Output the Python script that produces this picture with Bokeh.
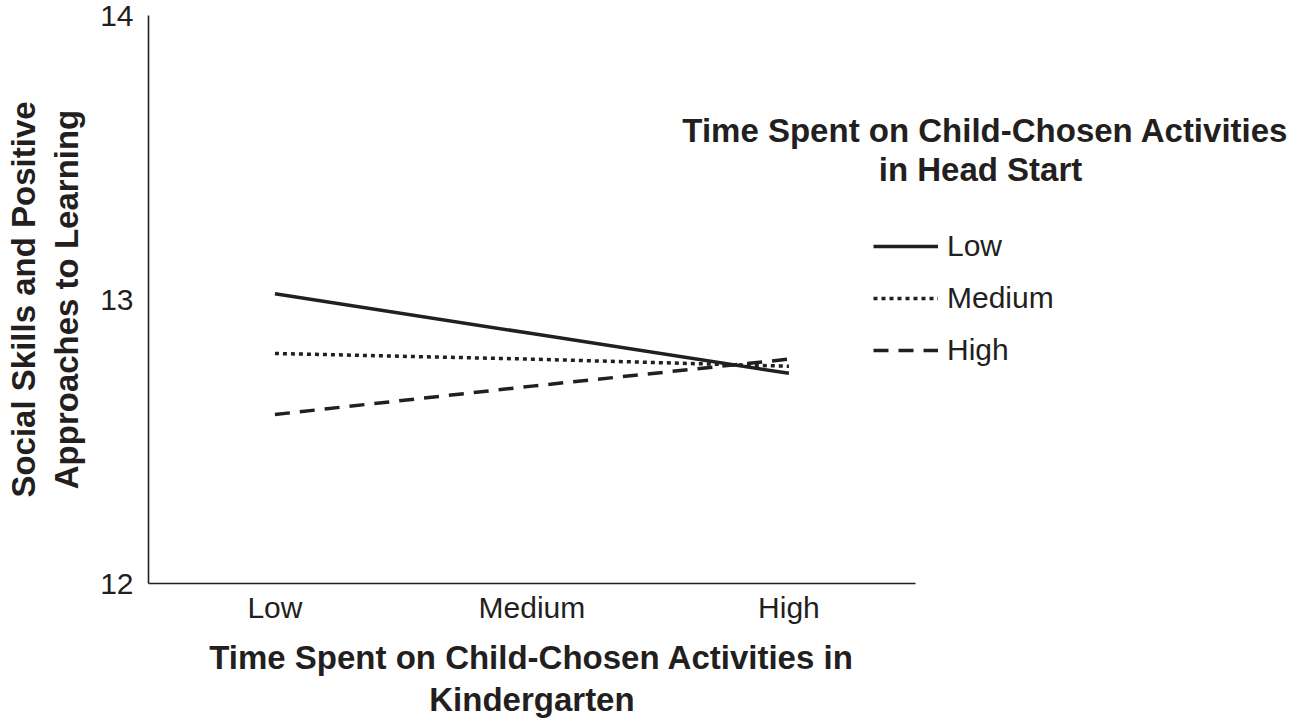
from bokeh.plotting import figure
from bokeh.models import (Range1d, FixedTicker, Label, Legend, LegendItem, Title)
from bokeh.embed import file_html
from bokeh.resources import INLINE

# ---- data ----
categories = ["Low", "Medium", "High"]
low_series = [13.02, 12.88, 12.74]
medium_series = [12.81, 12.79, 12.765]
high_series = [12.595, 12.695, 12.79]
y_ticks = [12, 13, 14]
series_names = ["Low", "Medium", "High"]
x_title = ["Time Spent on Child-Chosen Activities in", "Kindergarten"]
y_title = ["Social Skills and Positive", "Approaches to Learning"]
legend_title = ["Time Spent on Child-Chosen Activities", "in Head Start"]

INK = "#231f20"
FONT = "Liberation Sans"
TITLE_PX = 33

# category positions on the x scale (one unit per category)
x_pos = list(range(len(categories)))
PAD = 0.492
LEFT = 148
FRAME_W = 1288 - LEFT
UNIT_PX = 257.0

p = figure(width=1288, height=718,
           x_range=Range1d(-PAD, -PAD + FRAME_W / UNIT_PX),
           y_range=Range1d(12, 14), output_backend="svg", toolbar_location=None,
           min_border_left=LEFT, min_border_right=0, min_border_top=15,
           min_border_bottom=135)
p.outline_line_color = None
p.xgrid.grid_line_color = None
p.ygrid.grid_line_color = None
p.background_fill_color = None
p.border_fill_color = None

for ax in (p.xaxis[0], p.yaxis[0]):
    ax.axis_line_color = INK
    ax.axis_line_width = 1.6
    ax.major_tick_line_color = None
    ax.minor_tick_line_color = None
    ax.major_label_text_font = FONT
    ax.major_label_text_font_size = "30px"
    ax.major_label_text_color = INK
    ax.axis_label_text_font = FONT
    ax.axis_label_text_font_style = "bold"
    ax.axis_label_text_color = INK
p.yaxis[0].ticker = FixedTicker(ticks=y_ticks)
p.xaxis[0].ticker = FixedTicker(ticks=x_pos)
p.xaxis[0].major_label_overrides = {i: c for i, c in zip(x_pos, categories)}
p.xaxis[0].bounds = (-PAD, x_pos[-1] + PAD)
p.yaxis[0].major_label_standoff = 9
p.xaxis[0].major_label_standoff = 1

# y axis title (two centred lines)
p.yaxis[0].axis_label = "\n".join(y_title)
p.yaxis[0].axis_label_text_font_size = f"{TITLE_PX}px"
p.yaxis[0].axis_label_text_line_height = 1.17
p.yaxis[0].axis_label_standoff = 12

# x axis: blank label used only as a gap before the two title lines
p.xaxis[0].axis_label = " "
p.xaxis[0].axis_label_text_font_size = "1px"
p.xaxis[0].axis_label_standoff = 4

# x axis title lines, each centred under the axis line
def text_width(s, size):
    w = {"T": .611, "i": .278, "m": .889, "e": .556, " ": .278, "S": .667,
         "p": .611, "n": .611, "t": .333, "o": .611, "C": .722, "h": .611,
         "l": .278, "d": .611, "-": .333, "s": .556, "A": .722, "c": .556,
         "v": .556, "K": .722, "r": .389, "g": .611, "a": .556}
    return sum(w.get(ch, .6) for ch in s) * size

axis_center = PAD * UNIT_PX + UNIT_PX * x_pos[-1] / 2  # px from frame left
for line, so in zip(x_title, (4, 2)):
    off = axis_center - text_width(line, TITLE_PX) / 2
    p.add_layout(Title(text=line, align="left", offset=off, standoff=so,
                       text_font=FONT, text_font_size=f"{TITLE_PX}px",
                       text_font_style="bold", text_color=INK), "below")

r_low = p.line(x_pos, low_series, line_color=INK, line_width=3.5)
r_med = p.line(x_pos, medium_series, line_color=INK, line_width=3.5,
               line_dash="4 4")
r_high = p.line(x_pos, high_series, line_color=INK, line_width=3.5,
                line_dash="15 10")

legend = Legend(items=[LegendItem(label=series_names[0], renderers=[r_low]),
                       LegendItem(label=series_names[1], renderers=[r_med]),
                       LegendItem(label=series_names[2], renderers=[r_high])],
                location=(725, 215), glyph_width=65, glyph_height=36,
                label_height=36, spacing=16, label_standoff=9, padding=0,
                margin=0, border_line_color=None, background_fill_alpha=0,
                label_text_font=FONT, label_text_font_size="30px",
                label_text_color=INK)
p.add_layout(legend, "center")

def txt(s, x, y):
    p.add_layout(Label(x=x, y=y, x_units="screen", y_units="screen", text=s,
                       text_font=FONT, text_font_size=f"{TITLE_PX}px",
                       text_font_style="bold", text_color=INK,
                       text_align="center", text_baseline="alphabetic"))

# legend title
txt(legend_title[0], 837, 453)
txt(legend_title[1], 832, 414)

open("out.html", "w").write(file_html(p, INLINE))
